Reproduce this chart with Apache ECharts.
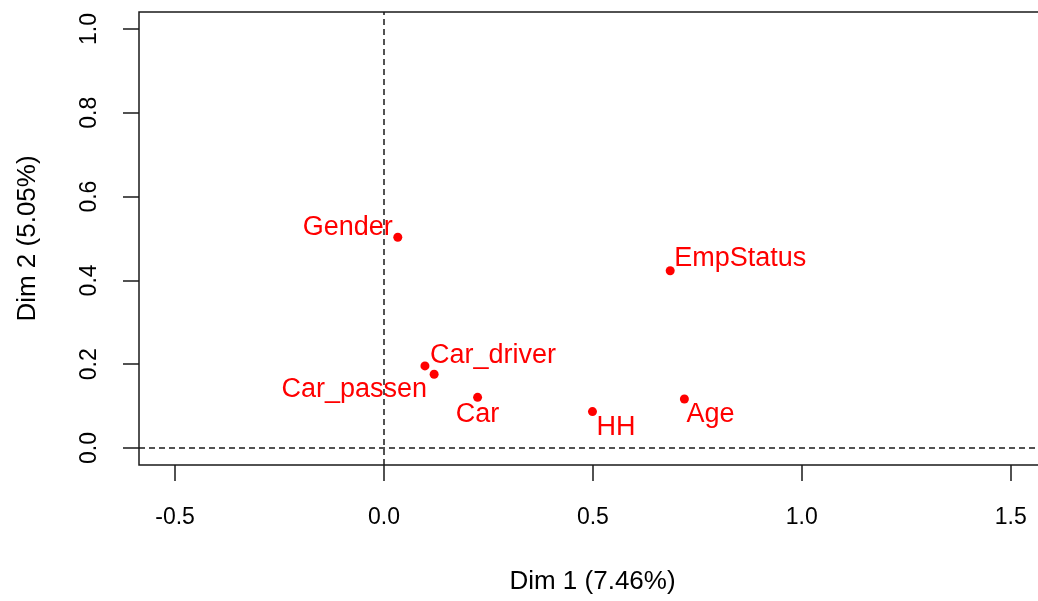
<!DOCTYPE html>
<html>
<head>
<meta charset="utf-8">
<title>MCA variables map</title>
<script src="https://cdn.jsdelivr.net/npm/echarts@6/dist/echarts.min.js"></script>
<style>
  html, body { margin: 0; padding: 0; background: #ffffff; }
  #chart { width: 1038px; height: 601px; }
</style>
</head>
<body>
<div id="chart"></div>
<script>
// Variable coordinates on the first two MCA dimensions
const categories = ['Gender', 'EmpStatus', 'Car_driver', 'Car_passen', 'Car', 'HH', 'Age'];
const dim1 = [0.033, 0.685, 0.098, 0.120, 0.224, 0.499, 0.719];
const dim2 = [0.503, 0.423, 0.196, 0.176, 0.121, 0.087, 0.117];

// Axis ticks and titles
const xTicks = [-0.5, 0.0, 0.5, 1.0, 1.5];
const yTicks = [0.0, 0.2, 0.4, 0.6, 0.8, 1.0];
const xTitle = 'Dim 1 (7.46%)';
const yTitle = 'Dim 2 (5.05%)';

// Where each text label sits next to its point (align + pixel offset)
const labelPlacement = {
  'Gender':     { align: 'right',  offset: [-5, -10] },
  'EmpStatus':  { align: 'left',   offset: [4, -12] },
  'Car_driver': { align: 'left',   offset: [5, -10] },
  'Car_passen': { align: 'right',  offset: [-7, 15] },
  'Car':        { align: 'center', offset: [0, 17] },
  'HH':         { align: 'left',   offset: [4, 16] },
  'Age':        { align: 'left',   offset: [2, 16] }
};

const FONT = '"Liberation Sans", Arial, Helvetica, sans-serif';
const INK = '#1a1a1a';

const points = categories.map((name, i) => {
  const p = labelPlacement[name];
  return {
    name: name,
    value: [dim1[i], dim2[i]],
    label: {
      show: true,
      position: 'inside',
      formatter: name,
      align: p.align,
      verticalAlign: 'middle',
      offset: p.offset,
      color: '#ff0000',
      fontSize: 27,
      fontFamily: FONT
    }
  };
});

const chart = echarts.init(document.getElementById('chart'), null, { renderer: 'canvas' });

chart.setOption({
  animation: false,
  backgroundColor: '#ffffff',
  grid: {
    left: 139,
    top: 12,
    right: -8,
    bottom: 136,
    containLabel: false,
    outerBoundsMode: 'none',
    show: true,
    borderColor: INK,
    borderWidth: 1.5,
    backgroundColor: 'transparent'
  },
  xAxis: {
    type: 'value',
    position: 'bottom',
    min: -0.5864,
    max: 1.5845,
    splitLine: { show: false },
    axisLine: { show: false, onZero: false },
    axisTick: {
      show: true,
      inside: false,
      length: 16,
      customValues: xTicks,
      lineStyle: { color: INK, width: 1.5 }
    },
    axisLabel: {
      show: true,
      customValues: xTicks,
      margin: 41,
      color: '#000',
      fontSize: 23,
      fontFamily: FONT,
      formatter: v => v.toFixed(1)
    },
    name: xTitle,
    nameLocation: 'middle',
    nameGap: 104,
    nameTextStyle: { color: '#000', fontSize: 26, fontFamily: FONT }
  },
  yAxis: {
    type: 'value',
    position: 'left',
    min: -0.0405,
    max: 1.0405,
    splitLine: { show: false },
    axisLine: { show: false, onZero: false },
    axisTick: {
      show: true,
      inside: false,
      length: 16,
      customValues: yTicks,
      lineStyle: { color: INK, width: 1.5 }
    },
    axisLabel: {
      show: true,
      customValues: yTicks,
      rotate: 90,
      margin: 38,
      color: '#000',
      fontSize: 23,
      fontFamily: FONT,
      formatter: v => v.toFixed(1)
    },
    name: yTitle,
    nameLocation: 'middle',
    nameGap: 98,
    nameRotate: 90,
    nameTextStyle: { color: '#000', fontSize: 26, fontFamily: FONT }
  },
  series: [{
    type: 'scatter',
    symbol: 'circle',
    symbolSize: 9,
    itemStyle: { color: '#ff0000', opacity: 1 },
    data: points,
    markLine: {
      silent: true,
      symbol: ['none', 'none'],
      label: { show: false },
      lineStyle: { color: INK, type: [6, 4], width: 1.5, opacity: 1 },
      data: [{ xAxis: 0 }, { yAxis: 0 }]
    }
  }]
});
</script>
</body>
</html>
